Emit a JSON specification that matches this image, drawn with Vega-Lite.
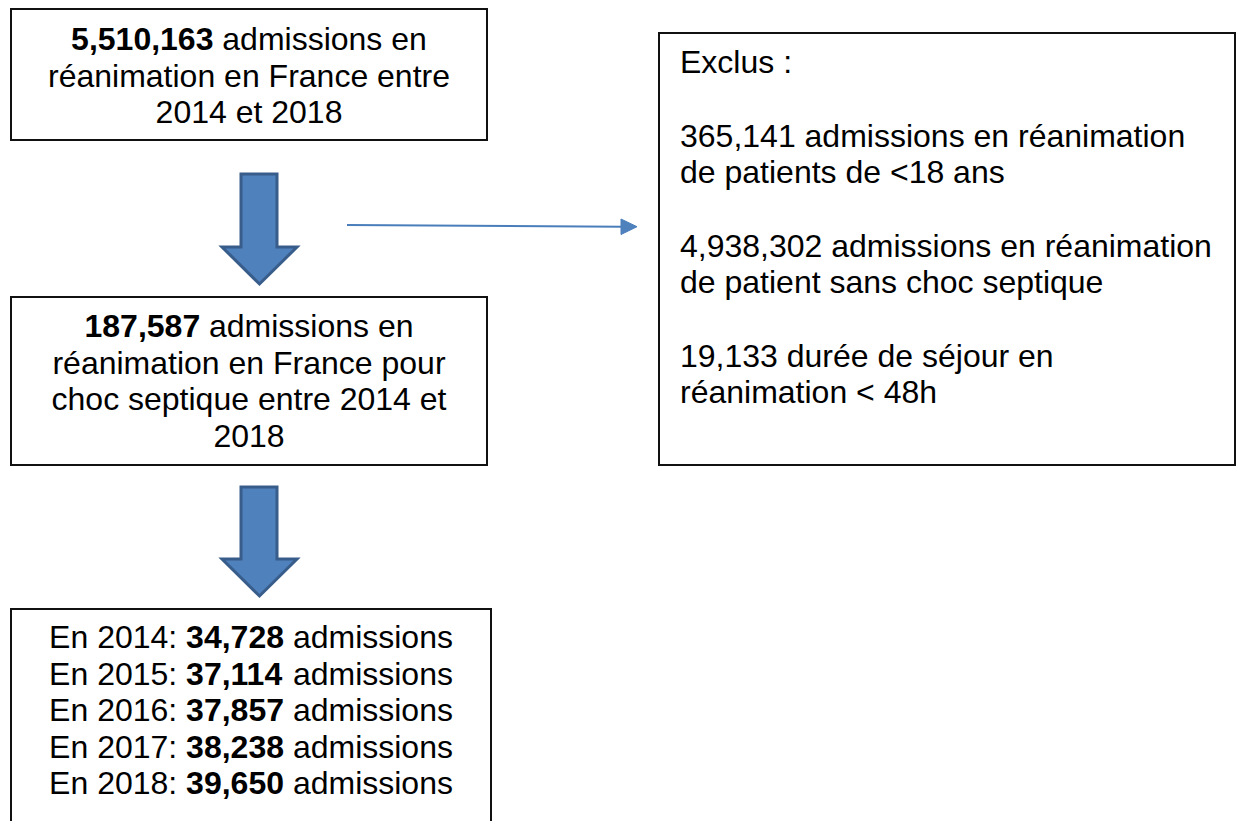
{
  "$schema": "https://vega.github.io/schema/vega-lite/v6.json",
  "width": 1240,
  "height": 821,
  "padding": 0,
  "autosize": {"type": "fit", "contains": "padding"},
  "background": "white",
  "config": {"view": {"stroke": null}},
  "layer": [
    {
      "data": {"values": [
        {"box": "total", "x": 11, "x2": 487, "y": 9, "y2": 140},
        {"box": "choc", "x": 11, "x2": 487, "y": 297, "y2": 465},
        {"box": "annees", "x": 11, "x2": 491, "y": 609, "y2": 823},
        {"box": "exclus", "x": 659, "x2": 1235, "y": 33, "y2": 465}
      ]},
      "mark": {"type": "rect", "fill": "white", "stroke": "#111111", "strokeWidth": 2, "clip": true},
      "encoding": {
        "x": {"field": "x", "type": "quantitative", "scale": {"domain": [0, 1240], "nice": false, "zero": false}, "axis": null},
        "x2": {"field": "x2"},
        "y": {"field": "y", "type": "quantitative", "scale": {"domain": [0, 821], "nice": false, "zero": false, "reverse": true}, "axis": null},
        "y2": {"field": "y2"}
      }
    },
    {
      "data": {"values": [
        {"a": "A", "py": 174, "px": 241, "px2": 277},
        {"a": "A", "py": 247, "px": 241, "px2": 277},
        {"a": "A", "py": 247.01, "px": 222, "px2": 297},
        {"a": "A", "py": 284, "px": 259.5, "px2": 259.5},
        {"a": "B", "py": 487, "px": 241, "px2": 277},
        {"a": "B", "py": 559, "px": 241, "px2": 277},
        {"a": "B", "py": 559.01, "px": 222, "px2": 297},
        {"a": "B", "py": 596, "px": 259.5, "px2": 259.5}
      ]},
      "mark": {"type": "area", "orient": "horizontal", "fill": "#4F81BD", "stroke": "#385D8A", "strokeWidth": 3, "fillOpacity": 1, "interpolate": "linear"},
      "encoding": {
        "y": {"field": "py", "type": "quantitative", "scale": {"domain": [0, 821], "nice": false, "zero": false, "reverse": true}, "axis": null},
        "x": {"field": "px", "type": "quantitative", "stack": null, "scale": {"domain": [0, 1240], "nice": false, "zero": false}, "axis": null},
        "x2": {"field": "px2"},
        "detail": {"field": "a", "type": "nominal"}
      }
    },
    {
      "data": {"values": [
        {"x": 347, "y": 225, "x2": 623, "y2": 226.7}
      ]},
      "mark": {"type": "rule", "color": "#4A7EBB", "strokeWidth": 2},
      "encoding": {
        "x": {"field": "x", "type": "quantitative", "scale": {"domain": [0, 1240], "nice": false, "zero": false}, "axis": null},
        "x2": {"field": "x2"},
        "y": {"field": "y", "type": "quantitative", "scale": {"domain": [0, 821], "nice": false, "zero": false, "reverse": true}, "axis": null},
        "y2": {"field": "y2"}
      }
    },
    {
      "data": {"values": [
        {"hx": 621, "hy": 219, "hy2": 234.5},
        {"hx": 637, "hy": 226.7, "hy2": 226.7}
      ]},
      "mark": {"type": "area", "orient": "vertical", "fill": "#4F81BD", "stroke": "#4A7EBB", "strokeWidth": 1, "fillOpacity": 1, "interpolate": "linear"},
      "encoding": {
        "x": {"field": "hx", "type": "quantitative", "scale": {"domain": [0, 1240], "nice": false, "zero": false}, "axis": null},
        "y": {"field": "hy", "type": "quantitative", "stack": null, "scale": {"domain": [0, 821], "nice": false, "zero": false, "reverse": true}, "axis": null},
        "y2": {"field": "hy2"}
      }
    },
    {
      "data": {"values": [
        {"x": 249, "y": 86.5, "t": "réanimation en France entre"},
        {"x": 249, "y": 123, "t": "2014 et 2018"},
        {"x": 249, "y": 374, "t": "réanimation en France pour"},
        {"x": 249, "y": 410, "t": "choc septique entre 2014 et"},
        {"x": 249, "y": 447, "t": "2018"}
      ]},
      "mark": {"type": "text", "align": "center", "baseline": "alphabetic", "font": "Liberation Sans", "fontSize": 32, "color": "#000000"},
      "encoding": {
        "x": {"field": "x", "type": "quantitative", "scale": {"domain": [0, 1240], "nice": false, "zero": false}, "axis": null},
        "y": {"field": "y", "type": "quantitative", "scale": {"domain": [0, 821], "nice": false, "zero": false, "reverse": true}, "axis": null},
        "text": {"field": "t"}
      }
    },
    {
      "data": {"values": [
        {"x": 222.3, "y": 50, "t": "admissions en"},
        {"x": 209.0, "y": 337, "t": "admissions en"},
        {"x": 49.1, "y": 648, "t": "En 2014:"},
        {"x": 292.9, "y": 648, "t": "admissions"},
        {"x": 49.1, "y": 685, "t": "En 2015:"},
        {"x": 292.9, "y": 685, "t": "admissions"},
        {"x": 49.1, "y": 721, "t": "En 2016:"},
        {"x": 292.9, "y": 721, "t": "admissions"},
        {"x": 49.1, "y": 758, "t": "En 2017:"},
        {"x": 292.9, "y": 758, "t": "admissions"},
        {"x": 49.1, "y": 794, "t": "En 2018:"},
        {"x": 292.9, "y": 794, "t": "admissions"},
        {"x": 680, "y": 73, "t": "Exclus :"},
        {"x": 680, "y": 147, "t": "365,141 admissions en réanimation"},
        {"x": 680, "y": 183, "t": "de patients de <18 ans"},
        {"x": 680, "y": 257, "t": "4,938,302 admissions en réanimation"},
        {"x": 680, "y": 293, "t": "de patient sans choc septique"},
        {"x": 680, "y": 367, "t": "19,133 durée de séjour en"},
        {"x": 680, "y": 403, "t": "réanimation < 48h"}
      ]},
      "mark": {"type": "text", "align": "left", "baseline": "alphabetic", "font": "Liberation Sans", "fontSize": 32, "color": "#000000"},
      "encoding": {
        "x": {"field": "x", "type": "quantitative", "scale": {"domain": [0, 1240], "nice": false, "zero": false}, "axis": null},
        "y": {"field": "y", "type": "quantitative", "scale": {"domain": [0, 821], "nice": false, "zero": false, "reverse": true}, "axis": null},
        "text": {"field": "t"}
      }
    },
    {
      "data": {"values": [
        {"x": 71.1, "y": 50, "t": "5,510,163"},
        {"x": 84.5, "y": 337, "t": "187,587"},
        {"x": 186.1, "y": 648, "t": "34,728"},
        {"x": 186.1, "y": 685, "t": "37,114"},
        {"x": 186.1, "y": 721, "t": "37,857"},
        {"x": 186.1, "y": 758, "t": "38,238"},
        {"x": 186.1, "y": 794, "t": "39,650"}
      ]},
      "mark": {"type": "text", "align": "left", "baseline": "alphabetic", "font": "Liberation Sans", "fontSize": 32, "fontWeight": "bold", "color": "#000000"},
      "encoding": {
        "x": {"field": "x", "type": "quantitative", "scale": {"domain": [0, 1240], "nice": false, "zero": false}, "axis": null},
        "y": {"field": "y", "type": "quantitative", "scale": {"domain": [0, 821], "nice": false, "zero": false, "reverse": true}, "axis": null},
        "text": {"field": "t"}
      }
    }
  ]
}
